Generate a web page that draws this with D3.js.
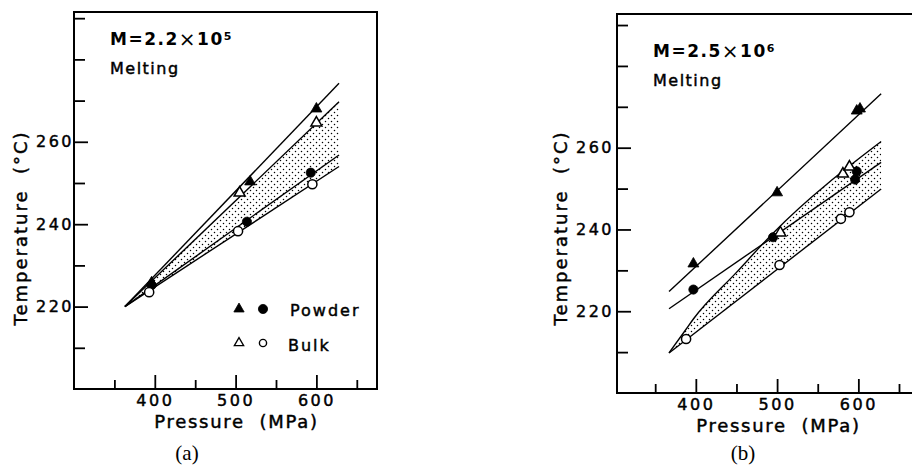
<!DOCTYPE html>
<html>
<head>
<meta charset="utf-8">
<script src="https://cdn.jsdelivr.net/npm/d3@7"></script>
<style>
body { margin: 0; background: #fff; }
svg { display: block; }
text { font-family: "DejaVu Sans", sans-serif; fill: #000; stroke: #000; stroke-width: 0.45px; }
text.serif { font-family: "Liberation Serif", serif; stroke-width: 0; }
text.bold { stroke-width: 0; }
</style>
</head>
<body>
<script>
// points are [pressure (MPa), temperature (°C)]

// (a) M = 2.2x10^5
var a_powder_tri  = [[396, 225.8], [518, 250.3], [600, 268]];
var a_powder_circ = [[396, 225.2], [514, 240.6], [593, 252.5]];
var a_bulk_tri    = [[505, 247.6], [600, 264.6]];
var a_bulk_circ   = [[393, 223.5], [503, 238.3], [595, 249.7]];
// drawn lines
var a_fit_powder_tri  = [[363, 220], [628, 274.2]];
var a_fit_bulk_tri    = [[363, 220], [628, 269.7]];
var a_fit_powder_circ = [[363, 220], [628, 256.8]];
var a_fit_bulk_circ   = [[363, 220], [628, 254]];

// (b) M = 2.5x10^6
var b_powder_tri  = [[397, 231.6], [500, 249], [598, 269], [602, 269.5]];
var b_powder_circ = [[397, 225.3], [495, 238.1], [596, 252.2], [598, 254.2]];
var b_bulk_tri    = [[504, 239.2], [581, 253.6], [589, 255.3]];
var b_bulk_circ   = [[388, 213.2], [503, 231.3], [578.5, 242.6], [589, 244.2]];
var b_fit_powder_tri  = [[367, 224.8], [628, 273.2]];
var b_fit_powder_circ = [[367, 220.6], [628, 256.4]];
var b_fit_bulk_tri    = [[367, 209.8], [388, 215.6], [397, 218.1], [450, 229.5], [495, 239.1], [628, 261.5]];
var b_fit_bulk_circ   = [[367, 209.8], [628, 249.9]];

var x_ticks = [350, 400, 450, 500, 550, 600, 650];
var x_labels = [400, 500, 600];
var y_ticks = [210, 220, 230, 240, 250, 260, 270, 280, 290];
var y_labels = [220, 240, 260];

var svg = d3.select("body").append("svg")
    .attr("width", 912)
    .attr("height", 471);

var pat = svg.append("defs").append("pattern")
    .attr("id", "dots")
    .attr("width", 6)
    .attr("height", 6)
    .attr("patternUnits", "userSpaceOnUse");
pat.append("circle").attr("cx", 1.5).attr("cy", 1.5).attr("r", 0.75).attr("fill", "#000");
pat.append("circle").attr("cx", 4.5).attr("cy", 4.5).attr("r", 0.75).attr("fill", "#000");

function drawMarks(g, x, y, data, shape, filled) {
    var sym = d3.symbol().type(shape === "tri" ? d3.symbolTriangle : d3.symbolCircle)
        .size(shape === "tri" ? 52 : 66);
    g.selectAll(null)
        .data(data)
      .enter().append("path")
        .attr("d", sym)
        .attr("transform", function(d) { return "translate(" + x(d[0]) + "," + y(d[1]) + ")"; })
        .attr("fill", filled ? "#000" : "#fff")
        .attr("stroke", "#000")
        .attr("stroke-width", filled ? 0.8 : 1.5);
}

function drawPanel(cfg) {
    var x = d3.scaleLinear().domain(cfg.xDomain).range([cfg.left, cfg.right]);
    var y = d3.scaleLinear().domain(cfg.yDomain).range([cfg.bottom, cfg.top]);
    var g = svg.append("g");

    // dotted band between the bulk lines
    var upper = d3.line().curve(d3.curveMonotoneX)
        .x(function(d) { return x(d[0]); })
        .y(function(d) { return y(d[1]); });
    var straight = d3.line()
        .x(function(d) { return x(d[0]); })
        .y(function(d) { return y(d[1]); });
    g.append("path")
        .attr("d", upper(cfg.shadeTop) + straight(cfg.shadeBottom.slice().reverse()).replace("M", "L") + "Z")
        .attr("fill", "url(#dots)");

    cfg.fits.forEach(function(f) {
        g.append("path")
            .datum(f)
            .attr("d", upper)
            .attr("fill", "none")
            .attr("stroke", "#000")
            .attr("stroke-width", 1.4);
    });

    cfg.marks.forEach(function(m) {
        drawMarks(g, x, y, m[0], m[1], m[2]);
    });

    // frame
    g.append("path")
        .attr("d", cfg.frame(cfg))
        .attr("fill", "none")
        .attr("stroke", "#000")
        .attr("stroke-width", 2);

    var xAxis = d3.axisBottom(x).tickValues(x_ticks).tickSize(-9).tickSizeOuter(0).tickPadding(6)
        .tickFormat(function(d) { return x_labels.indexOf(d) >= 0 ? d : ""; });
    var gx = g.append("g")
        .attr("transform", "translate(0," + cfg.bottom + ")")
        .call(xAxis);
    gx.select(".domain").remove();
    gx.selectAll(".tick").filter(function(d) { return x_labels.indexOf(d) >= 0; })
        .select("line").attr("y2", -14);
    gx.selectAll("line").attr("stroke-width", 1.8);
    gx.selectAll("text").attr("font-size", 16).style("letter-spacing", "2.5px");

    var yAxis = d3.axisLeft(y).tickValues(y_ticks).tickSize(-11).tickSizeOuter(0).tickPadding(cfg.yPad)
        .tickFormat(function(d) { return y_labels.indexOf(d) >= 0 ? d : ""; });
    var gy = g.append("g")
        .attr("transform", "translate(" + cfg.left + ",0)")
        .call(yAxis);
    gy.select(".domain").remove();
    gy.selectAll(".tick").filter(function(d) { return y_labels.indexOf(d) >= 0; })
        .select("line").attr("x2", 14);
    gy.selectAll("line").attr("stroke-width", 1.8);
    gy.selectAll("text").attr("font-size", 16).style("letter-spacing", "2.5px");

    // axis titles
    g.append("text")
        .attr("x", (cfg.left + cfg.xTitleRight) / 2)
        .attr("y", cfg.bottom + 39)
        .attr("text-anchor", "middle")
        .attr("font-size", 18)
        .style("letter-spacing", "1.7px")
        .text("Pressure\u00a0\u00a0(MPa)");
    g.append("text")
        .attr("transform", "translate(" + cfg.yTitleX + ",228) rotate(-90)")
        .attr("text-anchor", "middle")
        .attr("font-size", 18)
        .style("letter-spacing", "2px")
        .text("Temperature\u00a0\u00a0(\u00b0C)");

    // header
    var t = g.append("text")
        .attr("class", "bold")
        .attr("x", cfg.left + 36)
        .attr("y", cfg.top + cfg.headY)
        .attr("font-size", 17)
        .attr("font-weight", "bold")
        .style("letter-spacing", "1.5px");
    t.append("tspan").text(cfg.mass);
    t.append("tspan").attr("font-size", 20).attr("font-weight", "normal").attr("dy", 1).text("\u00d7");
    t.append("tspan").attr("dy", -1).text("10");
    t.append("tspan").attr("font-size", 11).attr("dy", -5).text(cfg.exp);
    g.append("text")
        .attr("x", cfg.left + 36)
        .attr("y", cfg.top + cfg.headY + 29)
        .attr("font-size", 16)
        .style("letter-spacing", "1.5px")
        .text("Melting");

    g.append("text")
        .attr("class", "serif")
        .attr("x", cfg.capX)
        .attr("y", 460)
        .attr("text-anchor", "middle")
        .attr("font-size", 21)
        .text(cfg.caption);

    return {x: x, y: y, g: g};
}

var pa = drawPanel({
    left: 74, right: 377, top: 12, bottom: 389,
    xDomain: [300, 675], yDomain: [200, 291.5],
    yPad: 0, xTitleRight: 399, yTitleX: 27,
    headY: 33, mass: "M=2.2", exp: "5", capX: 187, caption: "(a)",
    shadeTop: a_fit_bulk_tri, shadeBottom: a_fit_bulk_circ,
    fits: [a_fit_powder_tri, a_fit_bulk_tri, a_fit_powder_circ, a_fit_bulk_circ],
    marks: [[a_powder_tri, "tri", true], [a_powder_circ, "circ", true],
            [a_bulk_tri, "tri", false], [a_bulk_circ, "circ", false]],
    frame: function(c) { return "M" + c.left + "," + c.top + "H" + c.right + "V" + c.bottom + "H" + c.left + "Z"; }
});

drawPanel({
    left: 617, right: 912, top: 14, bottom: 393,
    xDomain: [303, 666], yDomain: [200, 292.7],
    yPad: 3, xTitleRight: 940, yTitleX: 567,
    headY: 43, mass: "M=2.5", exp: "6", capX: 743, caption: "(b)",
    shadeTop: b_fit_bulk_tri, shadeBottom: b_fit_bulk_circ,
    fits: [b_fit_powder_tri, b_fit_powder_circ, b_fit_bulk_tri, b_fit_bulk_circ],
    marks: [[b_powder_tri, "tri", true], [b_powder_circ, "circ", true],
            [b_bulk_tri, "tri", false], [b_bulk_circ, "circ", false]],
    frame: function(c) { return "M" + c.right + "," + c.top + "H" + c.left + "V" + c.bottom + "H" + c.right; }
});

// legend, panel (a)
var leg = pa.g.append("g");
var legRows = [["Powder", true, 309, 316], ["Bulk", false, 343, 351]];
legRows.forEach(function(r) {
    leg.append("path")
        .attr("d", d3.symbol().type(d3.symbolTriangle).size(r[1] ? 46 : 38))
        .attr("transform", "translate(239," + r[2] + ")")
        .attr("fill", r[1] ? "#000" : "#fff")
        .attr("stroke", "#000")
        .attr("stroke-width", r[1] ? 0.8 : 1.3);
    leg.append("circle")
        .attr("cx", 263)
        .attr("cy", r[2])
        .attr("r", r[1] ? 4.6 : 3.6)
        .attr("fill", r[1] ? "#000" : "#fff")
        .attr("stroke", "#000")
        .attr("stroke-width", r[1] ? 0.8 : 1.4);
    leg.append("text")
        .attr("x", r[1] ? 290 : 288)
        .attr("y", r[3])
        .attr("font-size", 16)
        .style("letter-spacing", "2px")
        .text(r[0]);
});
</script>
</body>
</html>
